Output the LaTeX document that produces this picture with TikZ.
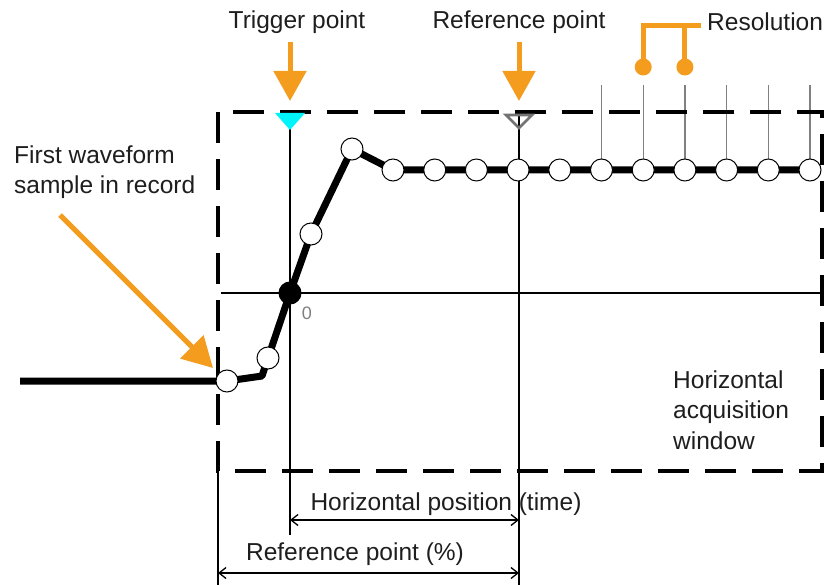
\documentclass[tikz,border=0pt]{standalone}
\usepackage{fontspec}
\setmainfont{Liberation Sans}
\usetikzlibrary{arrows.meta,positioning}
\definecolor{naranja}{RGB}{243,156,30}
\definecolor{cian}{RGB}{0,245,250}
\definecolor{texto}{RGB}{30,30,30}
\tikzset{
  muestra/.style={circle, draw, fill=white, line width=1pt, minimum size=22pt, inner sep=0pt},
  rotulo/.style={font=\fontsize{24.5}{30.5}\selectfont, text=texto, inner sep=0pt},
  flecha/.style={naranja, line width=5pt, -{Triangle[width=32pt,length=30pt]}},
  cota/.style={line width=1.3pt, {Straight Barb[length=7pt,width=11pt]}-{Straight Barb[length=7pt,width=11pt]}},
}
\begin{document}
\begin{tikzpicture}[x=1pt, y=-1pt, >=stealth]
  \useasboundingbox (0,0) rectangle (832,585);

  % Lineas verticales de disparo y de referencia
  \draw[line width=1.4pt] (290,112) -- (290,535);
  \draw[line width=1.4pt] (519,112) -- (519,585);
  \draw[line width=1.4pt] (218,471) -- (218,585);

  % Eje horizontal del cero
  \draw[line width=1.4pt] (221,293) -- (822,293);

  % Muestras de la forma de onda
  \coordinate (s0) at (227,381);
  \coordinate (s1) at (268,358);
  \coordinate (s2) at (290,293);
  \coordinate (s3) at (311,234);
  \coordinate (s4) at (352,149);
  \foreach \i in {0,...,10}
    \coordinate (p\i) at ({393+41.7*\i},170);

  % Lineas de la resolucion
  \foreach \i in {5,...,10}
    \draw[gray, line width=1.2pt] (p\i) -- ++(0,-85);

  % Ventana de adquisicion
  \draw[line width=3.2pt, dash pattern=on 31pt off 16pt] (218,112) rectangle (822,471);

  % Forma de onda
  \draw[line width=7pt, line join=round] (20,381) -- (s0) -- (262,376) -- (s1) -- (s2) -- (s3) -- (s4) -- (p0)
    \foreach \i in {1,...,10} { -- (p\i) };
  \foreach \i in {0,1,3,4}
    \node[muestra] (ms\i) at (s\i) {};
  \node[muestra, fill=black] (ms2) at (s2) {};
  \foreach \i in {0,...,10}
    \node[muestra] (mp\i) at (p\i) {};
  \node[font=\fontsize{18}{18}\selectfont, text=gray, inner sep=0pt] (cero) at (307,313) {0};

  % Marcas del disparo y de la referencia
  \fill[cian] (275,113) -- (305,113) -- (290,130) -- cycle;
  \draw[gray!90!black, line width=2.6pt, line join=miter] (506,115) -- (532,115) -- (519,128) -- cycle;

  % Rotulos superiores
  \node[rotulo] (disparo) at (297,22) {Trigger point};
  \node[rotulo] (referencia) at (519,22) {Reference point};
  \node[rotulo, anchor=west] (resolucion) at (707,22) {Resolution};
  \coordinate (tpunta) at (290,101);
  \coordinate (rpunta) at (519,101);
  \draw[flecha, shorten <=8pt] (disparo.south -| tpunta) -- (tpunta);
  \draw[flecha, shorten <=8pt] (referencia.south -| rpunta) -- (rpunta);

  % Corchete de la resolucion
  \coordinate (r1) at (mp6 |- 0,67);
  \coordinate (r2) at (mp7 |- 0,67);
  \draw[naranja, line width=5pt] (r1) |- ([xshift=-6pt]resolucion.west |- 0,26);
  \draw[naranja, line width=5pt] (r2) -- (r2 |- 0,26);
  \fill[naranja] (r1) circle (8.5pt) (r2) circle (8.5pt);

  % Primera muestra
  \node[rotulo, anchor=west, align=left] (primera) at (14,172) {First waveform\\sample in record};
  \coordinate (fpunta) at (213,368);
  \draw[flecha] (60,215) -- (fpunta);

  % Ventana horizontal
  \node[rotulo, anchor=west, align=left] (ventana) at (673,410) {Horizontal\\acquisition\\window};

  % Cotas inferiores
  \coordinate (c1) at (290,520);
  \coordinate (c2) at (519,520);
  \coordinate (c3) at (218,573);
  \coordinate (c4) at (519,573);
  \draw[cota] (c1) -- (c2);
  \draw[cota] (c3) -- (c4);
  \node[rotulo] (posicion) at (446,504) {Horizontal position (time)};
  \node[rotulo] (porcentaje) at (355,554) {Reference point (\%)};
\end{tikzpicture}
\end{document}
